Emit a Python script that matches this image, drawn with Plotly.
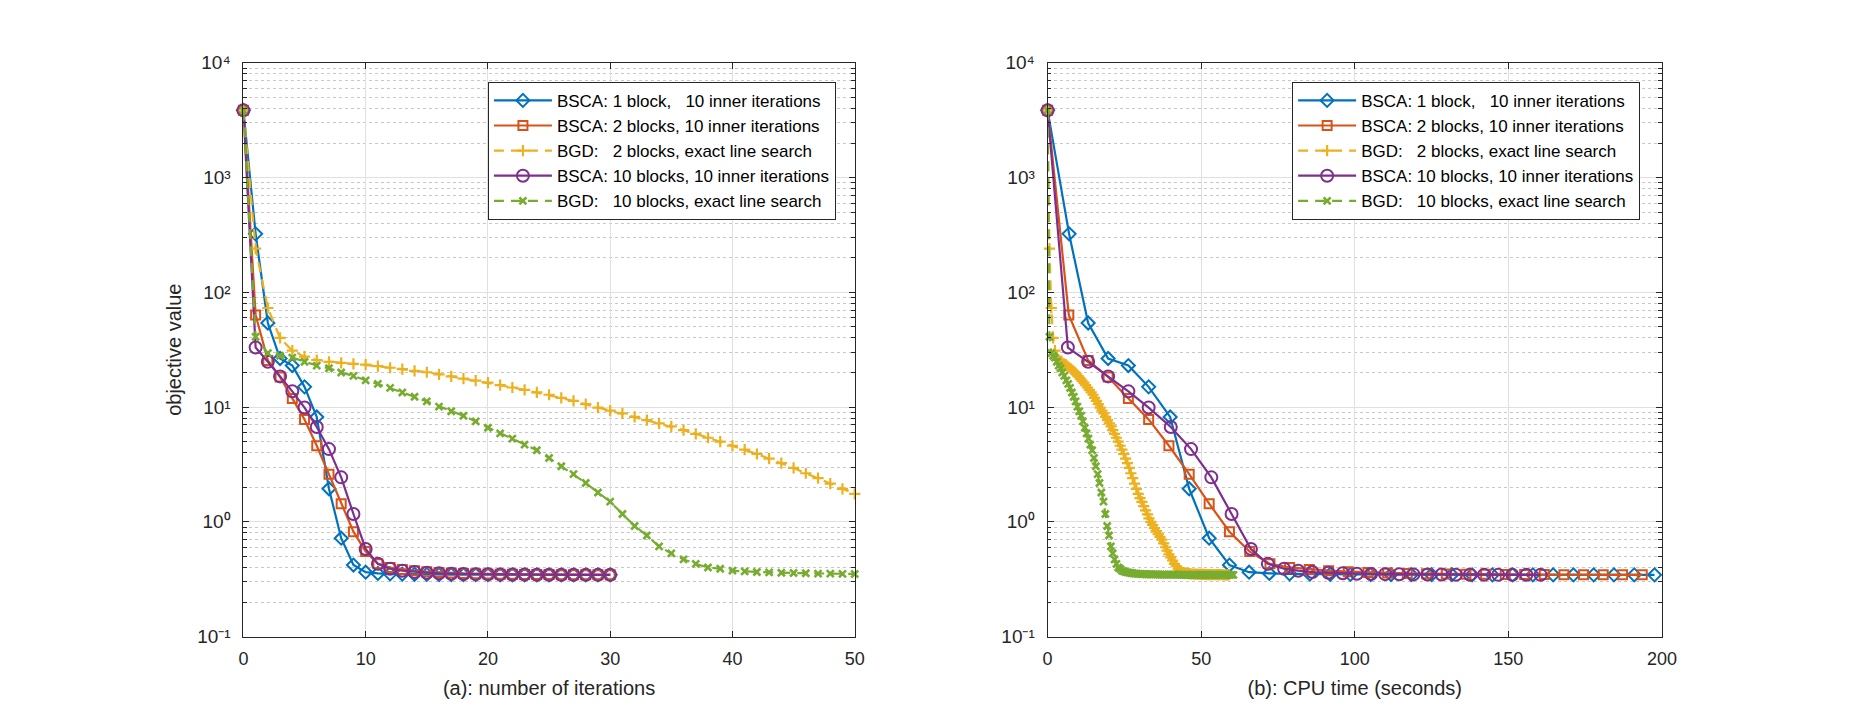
import plotly.graph_objects as go

# ---------------- data ----------------
iters_bsca = list(range(31))
iters_bgd = list(range(101))

bsca1_obj = [3850, 323, 54, 26.5, 23, 15, 8.2, 1.94, 0.72, 0.42, 0.364,
             0.355, 0.352, 0.35, 0.349, 0.348, 0.347, 0.347, 0.346, 0.346, 0.346,
             0.345, 0.345, 0.345, 0.345, 0.345, 0.345, 0.345, 0.345, 0.345, 0.345]
bsca2_obj = [3850, 63.5, 25.5, 18.3, 11.9, 7.8, 4.6, 2.6, 1.44, 0.82, 0.55,
             0.43, 0.40, 0.385, 0.375, 0.368, 0.362, 0.358, 0.355, 0.353, 0.351,
             0.35, 0.349, 0.348, 0.347, 0.347, 0.346, 0.346, 0.345, 0.345, 0.345]
bsca10_obj = [3850, 33, 24.8, 18.5, 13.7, 9.9, 6.7, 4.3, 2.44, 1.17, 0.58,
              0.43, 0.39, 0.375, 0.365, 0.36, 0.356, 0.353, 0.351, 0.35, 0.349,
              0.348, 0.347, 0.347, 0.346, 0.346, 0.345, 0.345, 0.345, 0.345, 0.345]
bgd2_obj = [3850, 240, 73, 40, 31, 27.5, 25.7, 24.8, 24.3, 23.8, 23.4,
            22.7, 22.0, 21.4, 20.7, 20.1, 19.3, 18.5, 17.7, 17.0, 16.3,
            15.5, 14.8, 14.1, 13.4, 12.8, 12.0, 11.3, 10.6, 9.9, 9.3,
            8.8, 8.2, 7.7, 7.2, 6.8, 6.3, 5.85, 5.4, 5.0, 4.6,
            4.25, 3.9, 3.55, 3.25, 2.95, 2.65, 2.4, 2.15, 1.94, 1.75,
            1.61, 1.49, 1.37, 1.26, 1.16, 1.07, 1.0, 0.94, 0.88, 0.83,
            0.78, 0.74, 0.70, 0.65, 0.60, 0.56, 0.52, 0.49, 0.46, 0.43,
            0.41, 0.39, 0.375, 0.365, 0.36, 0.357, 0.355, 0.353, 0.352, 0.351,
            0.35, 0.35, 0.349, 0.349, 0.348, 0.348, 0.348, 0.347, 0.347, 0.347,
            0.347, 0.346, 0.346, 0.346, 0.346, 0.346, 0.345, 0.345, 0.345, 0.345]
bgd10_obj = [3850, 41, 29.5, 28, 27, 24.8, 23, 21.8, 20, 18.7, 17.1,
             15.9, 14.7, 13.4, 12.3, 11.2, 10.1, 9.2, 8.4, 7.5, 6.6,
             5.9, 5.3, 4.7, 4.2, 3.6, 3.05, 2.6, 2.18, 1.8, 1.5,
             1.17, 0.92, 0.76, 0.61, 0.53, 0.47, 0.43, 0.40, 0.39, 0.375,
             0.37, 0.365, 0.362, 0.36, 0.358, 0.356, 0.354, 0.353, 0.352, 0.351,
             0.350, 0.350, 0.349, 0.349, 0.349, 0.348, 0.348, 0.348, 0.348, 0.347,
             0.347, 0.347, 0.347, 0.347, 0.346, 0.346, 0.346, 0.346, 0.346, 0.346,
             0.346, 0.345, 0.345, 0.345, 0.345, 0.345, 0.345, 0.345, 0.345, 0.345,
             0.345, 0.345, 0.345, 0.345, 0.345, 0.345, 0.345, 0.345, 0.345, 0.345,
             0.345, 0.345, 0.345, 0.345, 0.345, 0.345, 0.345, 0.345, 0.345, 0.345]

# CPU time (seconds) per recorded iteration
bsca1_time = [0, 7.0, 13.2, 19.7, 26.3, 32.9, 39.9, 46.1, 52.6, 59.2, 65.6,
              72.2, 78.8, 85.4, 92.0, 98.6, 105.2, 111.8, 118.4, 125.0, 131.6,
              138.2, 144.8, 151.4, 158.0, 164.6, 171.2, 177.8, 184.4, 191.0, 197.6]
bsca2_time = [0, 6.9, 13.2, 19.7, 26.3, 32.9, 39.5, 46.1, 52.6, 59.2, 65.8,
              72.4, 78.8, 85.2, 91.5, 97.9, 104.3, 110.7, 117.1, 123.4, 129.8,
              136.2, 142.6, 149.0, 155.3, 161.7, 168.1, 174.5, 180.9, 187.2, 193.6]
bsca10_time = [0, 6.6, 13.2, 19.7, 26.3, 32.9, 40.1, 46.7, 53.3, 59.9, 66.2,
               71.7, 77.0, 81.6, 86.2, 91.4, 96.1, 100.7, 105.3, 109.9, 114.5,
               119.1, 123.7, 128.3, 132.9, 137.5, 142.1, 146.7, 151.3, 155.9, 160.5]
bgd2_time = [0, 0.6, 1.2, 1.8, 2.4, 3.0, 3.5, 4.1, 4.7, 5.3,
             5.9, 6.5, 7.1, 7.7, 8.3, 8.9, 9.4, 10.0, 10.6, 11.2,
             11.8, 12.4, 13.0, 13.6, 14.2, 14.8, 15.3, 15.9, 16.5, 17.1,
             17.7, 18.3, 18.9, 19.5, 20.1, 20.7, 21.2, 21.8, 22.4, 23.0,
             23.6, 24.2, 24.8, 25.4, 26.0, 26.6, 27.1, 27.7, 28.3, 28.9,
             29.5, 30.1, 30.7, 31.3, 31.9, 32.5, 33.0, 33.6, 34.2, 34.8,
             35.4, 36.0, 36.6, 37.2, 37.8, 38.4, 38.9, 39.5, 40.1, 40.7,
             41.3, 41.9, 42.5, 43.1, 43.7, 44.3, 44.8, 45.4, 46.0, 46.6,
             47.2, 47.8, 48.4, 49.0, 49.6, 50.2, 50.7, 51.3, 51.9, 52.5,
             53.1, 53.7, 54.3, 54.9, 55.5, 56.1, 56.6, 57.2, 57.8, 58.4,
             59.0]
bgd10_time = [0, 0.6, 1.2, 1.8, 2.4, 3.0, 3.6, 4.2, 4.8, 5.4,
              6.1, 6.7, 7.3, 7.9, 8.5, 9.1, 9.7, 10.3, 10.9, 11.5,
              12.1, 12.7, 13.3, 13.9, 14.5, 15.1, 15.7, 16.3, 16.9, 17.5,
              18.2, 18.8, 19.4, 20.0, 20.6, 21.2, 21.8, 22.4, 23.0, 23.6,
              24.2, 24.8, 25.4, 26.0, 26.6, 27.2, 27.8, 28.4, 29.0, 29.6,
              30.3, 30.9, 31.5, 32.1, 32.7, 33.3, 33.9, 34.5, 35.1, 35.7,
              36.3, 36.9, 37.5, 38.1, 38.7, 39.3, 39.9, 40.5, 41.1, 41.7,
              42.4, 43.0, 43.6, 44.2, 44.8, 45.4, 46.0, 46.6, 47.2, 47.8,
              48.4, 49.0, 49.6, 50.2, 50.8, 51.4, 52.0, 52.6, 53.2, 53.8,
              54.5, 55.1, 55.7, 56.3, 56.9, 57.5, 58.1, 58.7, 59.3, 59.9,
              60.5]

NB = "\u00a0"
series_names = [
    "BSCA: 1 block," + NB * 3 + "10 inner iterations",
    "BSCA: 2 blocks, 10 inner iterations",
    "BGD:" + NB * 3 + "2 blocks, exact line search",
    "BSCA: 10 blocks, 10 inner iterations",
    "BGD:" + NB * 3 + "10 blocks, exact line search",
]

x_ticks_iter = [0, 10, 20, 30, 40, 50]
x_ticks_time = [0, 50, 100, 150, 200]
y_tickvals = [0.1, 1, 10, 100, 1000, 10000]
y_ticktext = ["10\u207b\u00b9", "10\u2070", "10\u00b9", "10\u00b2", "10\u00b3", "10\u2074"]

# ---------------- styles ----------------
colors = ["#0072BD", "#D95319", "#EDB120", "#7E2F8E", "#77AC30"]
symbols = ["diamond-open", "square-open", "cross-thin-open", "circle-open", "x-thin-open"]
msizes = [10, 9, 8, 12, 7]
mlw = [2, 2, 2.2, 2, 2.6]
dashes = ["solid", "solid", "10px,7px", "solid", "10px,7px"]
FONT = "Liberation Sans, Arial, sans-serif"
AX = "#262626"

left_x = [iters_bsca, iters_bsca, iters_bgd[:51], iters_bsca, iters_bgd[:51]]
left_y = [bsca1_obj, bsca2_obj, bgd2_obj[:51], bsca10_obj, bgd10_obj[:51]]
right_x = [bsca1_time, bsca2_time, bgd2_time, bsca10_time, bgd10_time]
right_y = [bsca1_obj, bsca2_obj, bgd2_obj, bsca10_obj, bgd10_obj]

fig = go.Figure()
for i in range(5):
    common = dict(
        mode="lines+markers",
        name=series_names[i],
        line=dict(color=colors[i], width=2.2, dash=dashes[i]),
        marker=dict(symbol=symbols[i], size=msizes[i], color=colors[i],
                    line=dict(color=colors[i], width=mlw[i])),
        legendgroup="g%d" % i,
        cliponaxis=False,
    )
    fig.add_trace(go.Scatter(x=left_x[i], y=left_y[i], xaxis="x", yaxis="y",
                             legend="legend", **common))
    fig.add_trace(go.Scatter(x=right_x[i], y=right_y[i], xaxis="x2", yaxis="y2",
                             legend="legend2", **common))

minor_vals = [m * 10 ** e for e in range(-1, 4) for m in range(2, 10)]

def xaxis_style(domain, rng, ticks, title, anchor):
    return dict(
        domain=domain, range=rng, anchor=anchor, tickmode="array", tickvals=ticks,
        ticktext=[str(t) for t in ticks],
        showline=True, linecolor=AX, linewidth=1, mirror="allticks",
        ticks="inside", ticklen=6, tickcolor=AX, tickwidth=1,
        showgrid=True, gridcolor="#e0e0e0", gridwidth=1, zeroline=False,
        tickfont=dict(family=FONT, size=18, color=AX),
        ticklabelstandoff=6,
        title=dict(text=title, font=dict(family=FONT, size=20, color=AX), standoff=12),
    )

def yaxis_style(anchor, title=None):
    d = dict(
        type="log", range=[-1, 4], domain=[0.11, 0.925], anchor=anchor,
        tickmode="array", tickvals=y_tickvals, ticktext=y_ticktext,
        showline=True, linecolor=AX, linewidth=1, mirror="allticks",
        ticks="inside", ticklen=6, tickcolor=AX, tickwidth=1,
        showgrid=True, gridcolor="#e0e0e0", gridwidth=1, zeroline=False,
        tickfont=dict(family=FONT, size=19, color=AX),
        ticklabelstandoff=8,
        minor=dict(tickmode="array", tickvals=minor_vals, ticks="inside", ticklen=3.5,
                   tickcolor=AX, showgrid=True, gridcolor="#c8c8c8", griddash="dot",
                   gridwidth=1),
    )
    if title:
        d["title"] = dict(text=title, font=dict(family=FONT, size=20, color=AX), standoff=10)
    return d

legend_common = dict(
    bgcolor="white", bordercolor=AX, borderwidth=1,
    font=dict(family=FONT, size=17, color="black"),
    xanchor="right", yanchor="top", y=1 - 74 / 725,
    tracegroupgap=1, itemwidth=58, traceorder="normal",
)

fig.update_layout(
    width=1850, height=725,
    margin=dict(l=0, r=0, t=0, b=0),
    paper_bgcolor="white", plot_bgcolor="white",
    font=dict(family=FONT, color=AX),
    xaxis=xaxis_style([241 / 1850, 859 / 1850], [0, 50], x_ticks_iter,
                      "(a): number of iterations", "y"),
    xaxis2=xaxis_style([1054 / 1850, 1675 / 1850], [0, 200], x_ticks_time,
                       "(b): CPU time (seconds)", "y2"),
    yaxis=yaxis_style("x", "objective value"),
    yaxis2=yaxis_style("x2"),
    legend=dict(x=840 / 1850, **legend_common),
    legend2=dict(x=1653 / 1850, **legend_common),
    showlegend=True,
)

fig.write_html("out.html")
